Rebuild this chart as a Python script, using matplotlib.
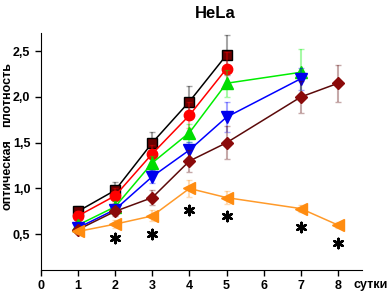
import numpy as np
import matplotlib
matplotlib.use("Agg")
import matplotlib.pyplot as plt

plt.rcParams['font.family'] = ['Liberation Sans', 'DejaVu Sans']

# data
days_a = [1, 2, 3, 4, 5]
days_b = [1, 2, 3, 4, 5, 7]
days_c = [1, 2, 3, 4, 5, 7, 8]

black_y = [0.75, 0.98, 1.50, 1.95, 2.46]
black_e = [0.06, 0.09, 0.12, 0.17, 0.22]
red_y = [0.70, 0.92, 1.38, 1.80, 2.31]
red_e = [0.05, 0.08, 0.10, 0.14, 0.18]
green_y = [0.60, 0.80, 1.28, 1.61, 2.15, 2.27]
green_e = [0.04, 0.06, 0.08, 0.10, 0.15, 0.25]
blue_y = [0.57, 0.77, 1.13, 1.42, 1.78, 2.20]
blue_e = [0.04, 0.05, 0.07, 0.09, 0.16, 0.12]
brown_y = [0.55, 0.75, 0.90, 1.30, 1.50, 2.00, 2.15]
brown_e = [0.03, 0.05, 0.08, 0.12, 0.18, 0.18, 0.20]
orange_y = [0.53, 0.61, 0.70, 1.00, 0.90, 0.78, 0.60]
orange_e = [0.03, 0.04, 0.06, 0.09, 0.07, 0.04, 0.03]

star_x = [2, 3, 4, 5, 7, 8]
star_y = [0.46, 0.50, 0.76, 0.70, 0.58, 0.40]

fig = plt.figure(figsize=(3.89, 2.94), dpi=100)
ax = fig.add_axes([0.105, 0.082, 0.826, 0.806])

series = [
    (days_a, black_y, black_e, 'black', 's', '#6a0000', 7),
    (days_a, red_y, red_e, '#ff0000', 'o', '#ff0000', 7.5),
    (days_b, green_y, green_e, '#00ee00', '^', '#00dd00', 8),
    (days_b, blue_y, blue_e, '#0000ff', 'v', '#0000ee', 8),
    (days_c, brown_y, brown_e, '#5c0a0a', 'D', '#8b0a0a', 6.5),
    (days_c, orange_y, orange_e, '#ff9a2a', '<', '#ff8c10', 8),
]
for x, y, e, col, mk, fc, ms in series:
    ax.errorbar(x, y, yerr=e, fmt='none', ecolor=col, alpha=0.35,
                elinewidth=1.5, capsize=2.5, capthick=1)
    ax.plot(x, y, color=col, lw=1.1, marker=mk, markersize=ms,
            markerfacecolor=fc, markeredgecolor=fc if mk != 's' else 'black')

ax.scatter(star_x, star_y, marker=(6, 2, 0), s=45, color='black', lw=1.8)

ax.set_xlim(0, 8.65)
ax.set_ylim(0.11, 2.7)
ax.set_xticks(range(0, 9))
ax.set_yticks([0.5, 1.0, 1.5, 2.0, 2.5])
ax.set_yticklabels(['0,5', '1,0', '1,5', '2,0', '2,5'])
ax.spines['top'].set_visible(False)
ax.spines['right'].set_visible(False)
ax.tick_params(labelsize=9, width=1, length=4)
for lab in ax.get_xticklabels() + ax.get_yticklabels():
    lab.set_fontweight('bold')

fig.text(0.553, 0.955, 'HeLa', ha='center', va='center', fontsize=12,
         fontweight='bold')
fig.text(0.018, 0.68, 'плотность', rotation=90, ha='center',
         va='center', fontsize=9, fontweight='bold')
fig.text(0.018, 0.405, 'оптическая', rotation=90, ha='center',
         va='center', fontsize=9, fontweight='bold')
fig.text(0.952, 0.03, 'сутки', ha='center', va='center', fontsize=9,
         fontweight='bold')

fig.savefig('out.png', dpi=100)
